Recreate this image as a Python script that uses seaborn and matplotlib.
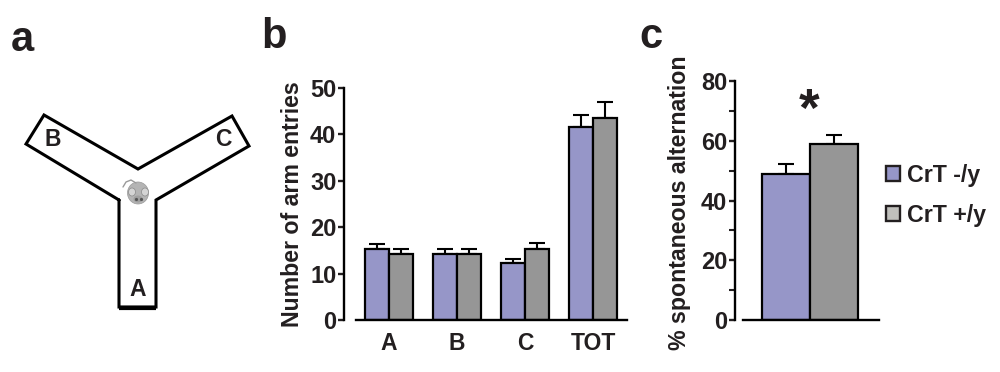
import matplotlib
matplotlib.use('Agg')
import matplotlib.pyplot as plt
from matplotlib.patches import Ellipse, Patch
import numpy as np
import pandas as pd
import seaborn as sns

# valores
arms = ['A', 'B', 'C', 'TOT']
entries_ko = [15.4, 14.2, 12.3, 41.7]
entries_wt = [14.2, 14.2, 15.4, 43.5]
entries_ko_err = [1.0, 1.1, 0.9, 2.5]
entries_wt_err = [1.1, 1.1, 1.2, 3.5]

alternation = [49.0, 58.8]
alternation_err = [3.1, 3.2]
genotypes = ['CrT -/y', 'CrT +/y']

PURPLE = '#9696c8'
GRAY = '#969696'
LEGEND_GRAY = '#c0c0bc'
INK = '#231f20'

# labirinto em Y (pixels da figura)
maze_x = [119, 119, 156, 156, 249, 232, 138, 44, 26, 119]
maze_y = [200, 307, 307, 200, 146, 116, 169, 115, 144, 200]

W, H = 1000, 372

sns.set_theme(style='white')
plt.rcParams['font.family'] = ['Liberation Sans', 'DejaVu Sans']
plt.rcParams['font.weight'] = 'bold'
plt.rcParams['text.color'] = INK
plt.rcParams['axes.labelcolor'] = INK
plt.rcParams['xtick.color'] = INK
plt.rcParams['ytick.color'] = INK

fig = plt.figure(figsize=(W / 100, H / 100), dpi=100)


def px_axes(left, right, top, bottom):
    return fig.add_axes([left / W, 1 - bottom / H, (right - left) / W, (bottom - top) / H])


def style_axis(ax, base_left, label, label_x, label_y):
    sns.despine(ax=ax, top=True, right=True)
    for s in ['left', 'bottom']:
        ax.spines[s].set_linewidth(1.7)
        ax.spines[s].set_color('black')
    ax.spines['bottom'].set_bounds(base_left, ax.get_xlim()[1])
    ax.patch.set_alpha(0)
    ax.set_xlabel('')
    ax.set_ylabel(label, fontsize=16.7, fontweight='bold')
    ax.yaxis.set_label_coords(label_x, label_y)
    ax.tick_params(axis='y', which='major', length=4.5, width=1.7, labelsize=17, pad=1, left=True)
    ax.tick_params(axis='x', length=0, labelsize=16.5, pad=9)


def add_errors(ax, bars, errs, color='black'):
    xs = [p.get_x() + p.get_width() / 2 for p in bars]
    ys = [p.get_height() for p in bars]
    ax.errorbar(xs, ys, yerr=[np.zeros(len(errs)), errs], fmt='none', ecolor=color,
                elinewidth=1.5, capsize=5.5, capthick=1.5, zorder=1)


# painel b
ax_b = px_axes(344, 627, 88, 320)
df_b = pd.DataFrame({
    'arm': arms * 2,
    'entries': entries_ko + entries_wt,
    'genotype': [genotypes[0]] * 4 + [genotypes[1]] * 4,
})
sns.barplot(data=df_b, x='arm', y='entries', hue='genotype', palette=[PURPLE, GRAY], width=0.71,
            gap=0, saturation=1, edgecolor='black', linewidth=1.6, errorbar=None, legend=False,
            zorder=2, ax=ax_b)
ax_b.set_xlim(-0.66, 3.5)
ax_b.set_ylim(0, 50)
ax_b.set_yticks(range(0, 51, 10))
add_errors(ax_b, ax_b.containers[0], entries_ko_err)
add_errors(ax_b, ax_b.containers[1], entries_wt_err)
style_axis(ax_b, -0.49, 'Number of arm entries', -0.141, 0.50)

# painel c
ax_c = px_axes(735, 879, 81, 320)
df_c = pd.DataFrame({'group': [''] * 2, 'alternation': alternation, 'genotype': genotypes})
sns.barplot(data=df_c, x='group', y='alternation', hue='genotype', palette=[PURPLE, GRAY], width=0.8,
            gap=0, saturation=1, edgecolor='black', linewidth=1.6, errorbar=None, legend=False,
            zorder=2, ax=ax_c)
ax_c.set_xlim(-0.63, 0.58)
ax_c.set_ylim(0, 80)
ax_c.set_yticks(range(0, 81, 20))
ax_c.set_yticks(range(10, 80, 20), minor=True)
add_errors(ax_c, ax_c.containers[0], alternation_err[:1])
add_errors(ax_c, ax_c.containers[1], alternation_err[1:])
style_axis(ax_c, -0.56, '% spontaneous alternation', -0.305, 0.49)
ax_c.tick_params(axis='y', which='minor', length=4, width=1.5, left=True)
ax_c.set_xticks([])

handles = [Patch(facecolor=PURPLE, edgecolor=INK, linewidth=1.7),
           Patch(facecolor=LEGEND_GRAY, edgecolor=INK, linewidth=1.7)]
fig.legend(handles, genotypes, loc='upper left', bbox_to_anchor=(886 / W, 1 - 164 / H), frameon=False,
           handlelength=0.62, handleheight=0.62, handletextpad=0.3, labelspacing=0.72,
           borderpad=0, borderaxespad=0, prop={'weight': 'bold', 'size': 16.7})

# sobreposição em pixels: labirinto e letras
ov = fig.add_axes([0, 0, 1, 1])
ov.set_xlim(0, W)
ov.set_ylim(H, 0)
ov.axis('off')
ov.patch.set_alpha(0)
ov.plot(maze_x, maze_y, color='black', lw=2.2, solid_joinstyle='miter')
ov.plot(maze_x[1:3], [308, 308], color='black', lw=3, solid_capstyle='butt')

# rato
mouse_gray = '#b4b4b4'
ov.plot([123, 126, 131, 136], [187, 182, 180, 183], color='#9a9a9a', lw=1)
ov.add_patch(Ellipse((138, 193), 21, 22, facecolor=mouse_gray, edgecolor='#9a9a9a', lw=0.5))
ov.add_patch(Ellipse((132, 192), 7, 8, facecolor='#d4d4d4', edgecolor='#8a8a8a', lw=0.5))
ov.add_patch(Ellipse((145, 192), 7, 8, facecolor='#d4d4d4', edgecolor='#8a8a8a', lw=0.5))
ov.add_patch(Ellipse((138, 199), 9, 7, facecolor='#a0a0a0', edgecolor='none'))
ov.plot([136, 141], [199, 199], ls='none', marker='o', ms=1.3, color='#555555')

for txt, x, y in [('A', 138, 289), ('B', 53, 140), ('C', 223, 140)]:
    ov.text(x, y, txt, ha='center', va='center', fontsize=16.5, fontweight='bold')
for txt, x, y in [('a', 11, 51), ('b', 261, 48), ('c', 639, 48)]:
    ov.text(x, y, txt, ha='left', va='baseline', fontsize=30, fontweight='bold')
ov.text(809, 112, '*', ha='center', va='center', fontsize=38, fontweight='bold')

fig.savefig('out.png', dpi=100)
